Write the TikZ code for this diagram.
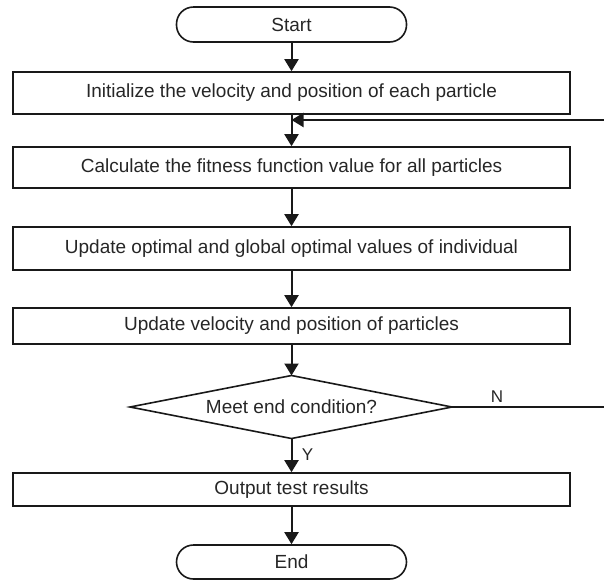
\documentclass[tikz,border=0pt]{standalone}
\usepackage{fontspec}
\setmainfont{Liberation Sans}
\usetikzlibrary{arrows.meta}
\begin{document}
\begin{tikzpicture}[x=1pt,y=-1pt,
  line width=1.6pt,
  every node/.style={font=\fontsize{19}{22}\selectfont, text=black!85},
  proc/.style={draw=black!90, rectangle, minimum width=557pt, inner sep=0pt},
  term/.style={draw=black!90, rectangle, rounded corners=17pt, minimum width=230pt, minimum height=35pt, inner sep=0pt},
  dtext/.style={inner sep=0pt},
  flow/.style={draw=black!90, line width=2pt, -{Triangle[width=14pt,length=12pt]}},
  lbl/.style={font=\fontsize{17}{20}\selectfont, inner sep=0pt}]
\useasboundingbox (0,0) rectangle (604,582);
\node[term] (start) at (291.5,24.5) {Start};
\node[proc, minimum height=42pt] (b1) at (291.5,93) {Initialize the velocity and position of each particle};
\node[proc, minimum height=41pt] (b2) at (291.5,167.5) {Calculate the fitness function value for all particles};
\node[proc, minimum height=43pt] (b3) at (291.5,248.5) {Update optimal and global optimal values of individual};
\node[proc, minimum height=36pt] (b4) at (291.5,326) {Update velocity and position of particles};
\node[dtext] (d) at (291.5,407) {Meet end condition?};
\coordinate (dn) at (291.5,375.5);
\coordinate (ds) at (291.5,438.5);
\coordinate (dw) at (130,407);
\coordinate (de) at (452,407);
\draw[draw=black!90] (dn) -- (de) -- (ds) -- (dw) -- cycle;
\node[proc, minimum height=33pt] (b5) at (291.5,489.5) {Output test results};
\node[term, minimum height=34pt] (end) at (291.5,562) {End};
\coordinate (join) at (291.5,120);
\coordinate (r1) at (608,407);
\coordinate (r2) at (608,120);
\draw[flow] (start.south) -- (b1.north);
\draw[flow] (b1.south) -- (b2.north);
\draw[flow] (b2.south) -- (b3.north);
\draw[flow] (b3.south) -- (b4.north);
\draw[flow] (b4.south) -- (dn);
\draw[flow] (ds) -- (b5.north);
\draw[flow] (b5.south) -- (end.north);
\draw[flow] (de) -- (r1) -- (r2) -- (join);
\node[lbl] (nl) at (497,397) {N};
\node[lbl, anchor=west] (yl) at (301,455) {Y};
\end{tikzpicture}
\end{document}
